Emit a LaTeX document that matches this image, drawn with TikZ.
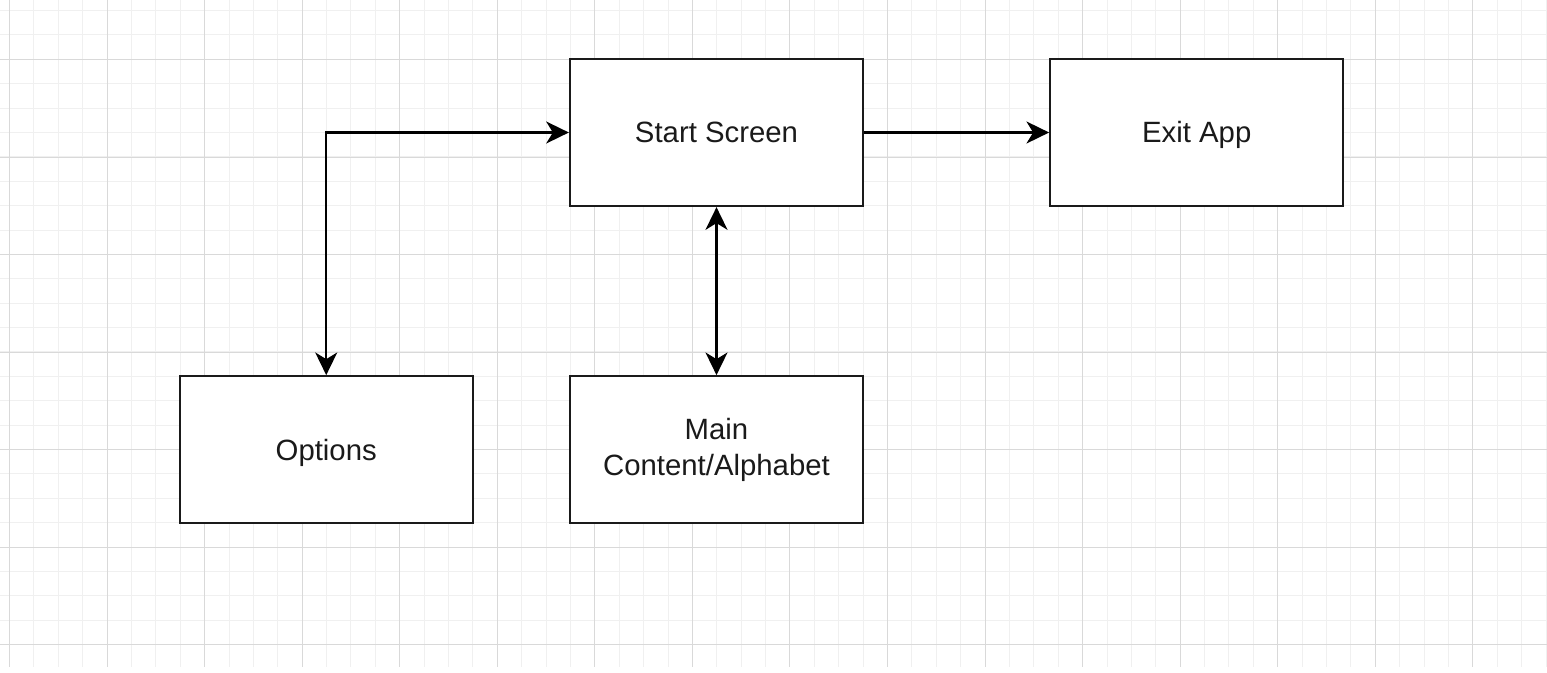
\documentclass[tikz,border=0pt]{standalone}
\usepackage{fontspec}
\setmainfont{Liberation Sans}
\usetikzlibrary{arrows.meta,positioning}

\definecolor{gridminor}{HTML}{F0F0F0}
\definecolor{gridmajor}{HTML}{D9D9D9}
\definecolor{inkdark}{HTML}{1A1A1A}

\begin{document}
\begin{tikzpicture}[
  x=0.75pt, y=-0.75pt,
  font=\fontsize{22}{27.5}\selectfont,
  screen/.style={rectangle, draw=inkdark, line width=1.7pt, fill=white, text=inkdark,
                 align=center, minimum width=219.75pt, minimum height=110.25pt, inner sep=2pt},
  oneline/.style={text height=15.8pt, text depth=0.3pt},
  minorline/.style={draw=gridminor, line width=0.75pt},
  majorline/.style={draw=gridmajor, line width=0.75pt},
  arr/.style={-{Stealth[length=17pt,width=16.5pt,inset=5pt]}, line width=1.6pt, draw=black},
  biarr/.style={{Stealth[length=17pt,width=16.5pt,inset=5pt]}-{Stealth[length=17pt,width=16.5pt,inset=5pt]},
                line width=1.6pt, draw=black},
]
% --- CANVAS ---
\useasboundingbox (0,0) rectangle (1547,672);
\fill[white] (0,0) rectangle (1547,672);
% --- GRID ---
\foreach \k in {0,...,63} {
  \pgfmathsetmacro\gx{round(9+\k*24.39)+0.5}
  \draw[minorline] (\gx,0) -- (\gx,666.5);
}
\foreach \k in {0,...,26} {
  \pgfmathsetmacro\gy{round(10+\k*24.39)+0.5}
  \draw[minorline] (0,\gy) -- (1547,\gy);
}
\foreach \k in {0,...,15} {
  \pgfmathsetmacro\gx{round(9+\k*97.56)+0.5}
  \draw[majorline] (\gx,0) -- (\gx,666.5);
}
\foreach \k in {0,...,6} {
  \pgfmathsetmacro\gy{round(59+\k*97.56)+0.5}
  \draw[majorline] (0,\gy) -- (1547,\gy);
}
% --- SCREENS ---
\node[screen, oneline] (start) at (716.5,132.5) {Start Screen};
\node[screen, oneline, right=138.75pt of start] (exit) {Exit App};
\node[screen, below=126pt of start] (main) {Main\\Content/Alphabet};
\node[screen, oneline, left=71.25pt of main] (options) {Options};
% --- flow ---
\draw[arr] (start) -- (exit);
\draw[biarr] (options.north) |- (start.west);
\draw[biarr] (start) -- (main);
\end{tikzpicture}
\end{document}
